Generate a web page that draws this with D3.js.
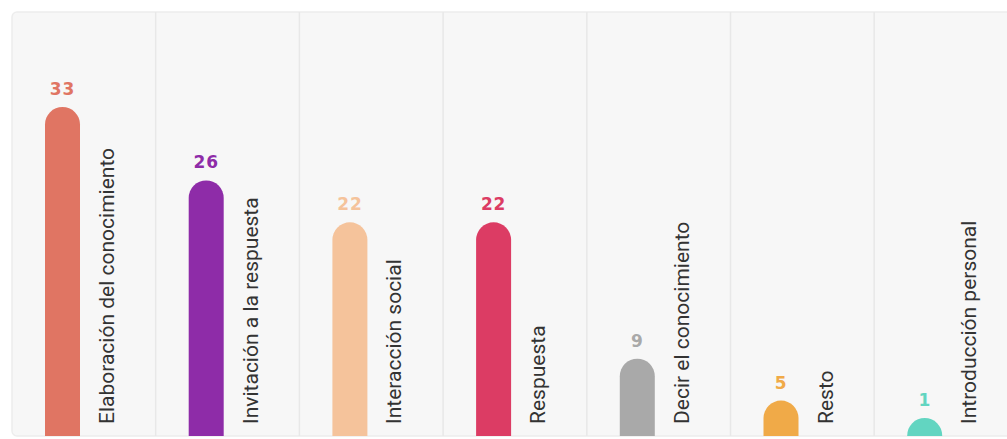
<!DOCTYPE html>
<html>
<head>
<meta charset="utf-8">
<script src="https://cdn.jsdelivr.net/npm/d3@7"></script>
<style>
  body { margin: 0; background: #fff; }
  svg { display: block; }
</style>
</head>
<body>
<svg id="chart" width="1007" height="439"></svg>
<script>
// datos
const categorias = ["Elaboración del conocimiento", "Invitación a la respuesta", "Interacción social",
                    "Respuesta", "Decir el conocimiento", "Resto", "Introducción personal"];
const valores = [33, 26, 22, 22, 9, 5, 1];
const colores = ["#e07563", "#8e2ca8", "#f5c39b", "#dc3c64", "#a9a9a9", "#f0aa48", "#62d5c1"];

const svg = d3.select("#chart");
const panel = {left: 12, top: 12, bottom: 436};

// clip para que las barras no salgan del panel
svg.append("defs").append("clipPath").attr("id", "clip")
   .append("rect")
   .attr("x", panel.left).attr("y", panel.top)
   .attr("width", 1100).attr("height", panel.bottom - panel.top)
   .attr("rx", 5);

// fondo
svg.append("rect")
   .attr("x", panel.left).attr("y", panel.top)
   .attr("width", 1100).attr("height", panel.bottom - panel.top)
   .attr("rx", 5)
   .attr("fill", "#f7f7f7")
   .attr("stroke", "#ededed")
   .attr("stroke-width", 1.5);

const x = d3.scaleBand()
            .domain(categorias)
            .range([panel.left, panel.left + 143.7 * categorias.length])
            .padding(0);

const y = d3.scaleLinear()
            .domain([0, d3.max(valores)])
            .range([453, 107]);

const anchoBarra = 35;
const datos = categorias.map((c, i) => ({cat: c, val: valores[i], color: colores[i]}));
const topBarra = d => Math.min(y(d.val), y(0) - anchoBarra);

// separadores
svg.selectAll("line.sep")
   .data(categorias.slice(1))
   .enter().append("line")
     .attr("class", "sep")
     .attr("x1", d => x(d)).attr("x2", d => x(d))
     .attr("y1", panel.top).attr("y2", panel.bottom)
     .attr("stroke", "#e8e8e8")
     .attr("stroke-width", 1.5);

const g = svg.append("g").attr("clip-path", "url(#clip)");

// barras redondeadas
g.selectAll("rect.bar")
  .data(datos)
  .enter().append("rect")
    .attr("class", "bar")
    .attr("x", d => x(d.cat) + 33)
    .attr("y", d => topBarra(d))
    .attr("width", anchoBarra)
    .attr("height", d => y(0) - topBarra(d) + 20)
    .attr("rx", anchoBarra / 2)
    .attr("fill", d => d.color);

// valores
svg.selectAll("text.valor")
   .data(datos)
   .enter().append("text")
     .attr("class", "valor")
     .attr("x", d => x(d.cat) + 33 + anchoBarra / 2)
     .attr("y", d => topBarra(d) - 12)
     .attr("text-anchor", "middle")
     .style("font-family", "DejaVu Sans")
     .style("font-weight", "bold")
     .style("font-size", "17px")
     .style("letter-spacing", "0.8px")
     .attr("fill", d => d.color)
     .text(d => d.val);

// etiquetas verticales
svg.selectAll("text.cat")
   .data(datos)
   .enter().append("text")
     .attr("class", "cat")
     .attr("transform", d => `translate(${x(d.cat) + 102},424) rotate(-90)`)
     .style("font-family", "Roboto")
     .style("font-size", "21px")
     .attr("fill", "#333")
     .text(d => d.cat);
</script>
</body>
</html>
